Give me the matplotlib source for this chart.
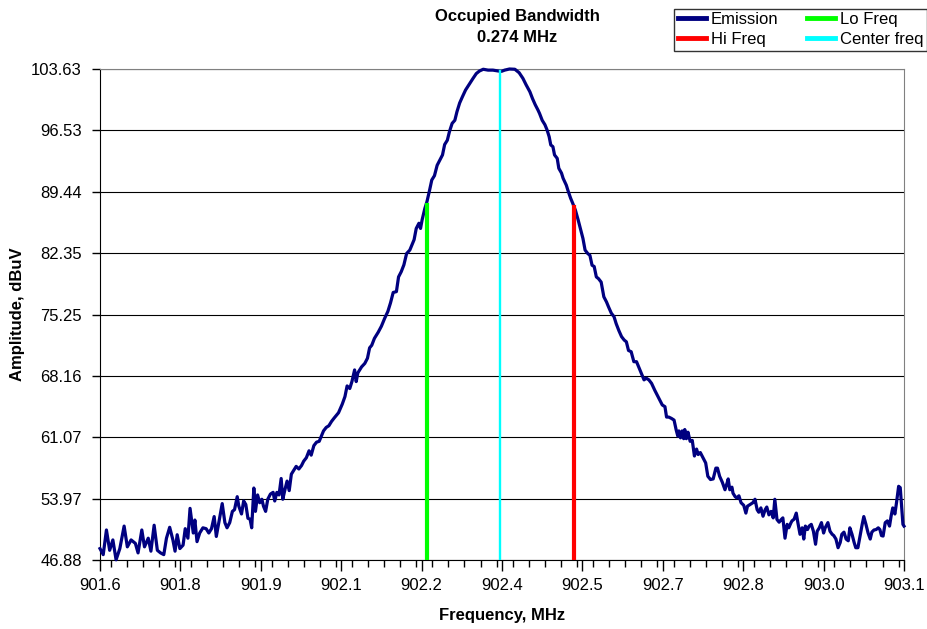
import matplotlib
matplotlib.use('Agg')
import matplotlib.pyplot as plt
from matplotlib.ticker import MultipleLocator

plt.rcParams['font.family'] = ['Liberation Sans', 'DejaVu Sans']

# emission trace (MHz, dBuV)
emission_freq = [
    901.600, 901.606, 901.612, 901.618, 901.624, 901.630, 901.637, 901.645, 901.651, 901.658,
    901.666, 901.671, 901.678, 901.683, 901.690, 901.695, 901.701, 901.707, 901.713, 901.719,
    901.724, 901.730, 901.736, 901.740, 901.744, 901.749, 901.755, 901.759, 901.764, 901.768,
    901.774, 901.777, 901.781, 901.786, 901.792, 901.798, 901.803, 901.808, 901.813, 901.817,
    901.824, 901.828, 901.833, 901.837, 901.842, 901.847, 901.851, 901.856, 901.859, 901.864,
    901.868, 901.872, 901.876, 901.880, 901.883, 901.887, 901.890, 901.894, 901.898, 901.902,
    901.905, 901.909, 901.913, 901.918, 901.923, 901.926, 901.930, 901.934, 901.938, 901.941,
    901.945, 901.949, 901.953, 901.957, 901.961, 901.966, 901.971, 901.976, 901.980, 901.985,
    901.990, 901.994, 901.999, 902.004, 902.009, 902.013, 902.017, 902.022, 902.027, 902.032,
    902.037, 902.045, 902.052,
    902.057, 902.061, 902.066, 902.070, 902.075, 902.078, 902.081, 902.088, 902.094, 902.099,
    902.103, 902.107, 902.112, 902.119, 902.125, 902.131, 902.137, 902.142, 902.147, 902.153,
    902.157, 902.162, 902.167, 902.172, 902.178, 902.182, 902.186, 902.190, 902.195, 902.198,
    902.201, 902.206, 902.210, 902.215, 902.219, 902.224, 902.229, 902.234, 902.239, 902.243,
    902.248,
    902.252, 902.257, 902.262, 902.266, 902.271, 902.276, 902.282, 902.290, 902.296, 902.302,
    902.308, 902.315, 902.324, 902.333, 902.343, 902.349, 902.355, 902.364, 902.374, 902.382,
    902.389, 902.395, 902.402, 902.407, 902.412, 902.417, 902.420, 902.425, 902.430, 902.434,
    902.438, 902.441, 902.445, 902.448, 902.453, 902.456, 902.461,
    902.464, 902.470, 902.473, 902.478, 902.482, 902.487, 902.492, 902.497, 902.501, 902.505,
    902.510, 902.514, 902.518, 902.522, 902.526, 902.530, 902.535, 902.540, 902.545, 902.549,
    902.554, 902.559, 902.563, 902.568, 902.573, 902.578, 902.582, 902.586, 902.591, 902.596,
    902.601, 902.605, 902.610, 902.615, 902.619, 902.624, 902.629, 902.635, 902.640, 902.644,
    902.649, 902.654, 902.657, 902.661, 902.666, 902.671, 902.675,
    902.678, 902.680, 902.683, 902.686, 902.689, 902.691, 902.694, 902.697, 902.701, 902.705,
    902.709, 902.713, 902.716, 902.720, 902.725, 902.730, 902.734, 902.739, 902.744, 902.749,
    902.752, 902.756, 902.761, 902.766, 902.770, 902.772, 902.775, 902.779, 902.781, 902.785,
    902.788, 902.792, 902.796, 902.801, 902.805, 902.808, 902.813, 902.818, 902.822, 902.826,
    902.829, 902.833, 902.837, 902.841, 902.844, 902.848, 902.852, 902.856, 902.859, 902.863,
    902.867, 902.871, 902.874, 902.878, 902.882, 902.885, 902.889,
    902.891, 902.895, 902.899, 902.902, 902.906, 902.910, 902.913, 902.916, 902.920, 902.923,
    902.927, 902.931, 902.935, 902.938, 902.942, 902.946, 902.950, 902.953, 902.958, 902.962,
    902.966, 902.969, 902.973, 902.977, 902.981, 902.984, 902.988, 902.992, 902.996, 902.999,
    903.003, 903.007, 903.010, 903.014, 903.018, 903.022, 903.025, 903.029, 903.033, 903.037,
    903.040, 903.044, 903.048, 903.052, 903.055, 903.058, 903.061, 903.065, 903.069, 903.073,
    903.076, 903.079, 903.083, 903.086, 903.090, 903.093, 903.095, 903.098, 903.100,
]
emission_amp = [
    48.2, 47.5, 50.35, 48.0, 49.2, 46.9, 48.2, 50.8, 48.4, 49.2,
    48.8, 47.7, 50.35, 48.4, 49.4, 47.9, 50.9, 48.0, 47.7, 47.5,
    49.4, 50.66, 49.2, 47.9, 49.8, 48.2, 48.6, 50.5, 49.4, 52.85,
    50.0, 51.5, 49.0, 50.0, 50.6, 50.5, 50.0, 50.5, 51.9, 49.6,
    52.0, 53.4, 51.2, 50.6, 51.2, 52.5, 52.7, 54.2, 53.1, 52.2,
    53.7, 53.3, 51.7, 51.6, 50.6, 55.2, 52.5, 54.4, 53.5, 53.9,
    53.1, 52.5, 53.9, 54.5, 54.7, 53.7, 54.7, 54.4, 56.3, 53.9,
    55.0, 56.0, 54.9, 56.8, 57.2, 57.7, 57.4, 57.8, 58.3, 58.7,
    59.5, 59.0, 60.1, 60.5, 60.6, 61.2, 61.8, 62.2, 62.4, 62.9,
    63.3, 63.9, 64.9,
    65.77, 67.0, 66.7, 67.5, 68.85, 67.5, 68.5, 69.2, 69.6, 70.2,
    71.4, 71.7, 72.5, 73.2, 73.9, 74.8, 75.6, 76.6, 77.8, 77.9,
    79.6, 80.2, 81.0, 82.3, 82.7, 83.3, 83.9, 85.2, 85.8, 85.2,
    86.2, 87.5, 88.3, 89.65, 90.8, 91.3, 92.5, 93.1, 93.7, 94.9,
    95.4,
    96.4, 97.35, 97.7, 98.7, 99.7, 100.4, 101.2, 101.97, 102.55, 103.1,
    103.4, 103.6, 103.5, 103.5, 103.4, 103.36, 103.5, 103.63, 103.6, 103.2,
    102.55, 101.8, 101.0, 100.2, 99.5, 98.9, 98.5, 97.7, 97.2, 96.6,
    95.8, 94.85, 94.65, 93.7, 93.3, 92.15, 91.6,
    91.0, 90.2, 89.6, 88.7, 88.1, 87.3, 86.2, 85.0, 84.05, 82.7,
    82.3, 82.1, 80.95, 80.8, 79.6, 79.4, 79.0, 77.3, 76.7, 76.1,
    75.4, 75.0, 74.2, 73.4, 72.7, 72.3, 72.1, 71.1, 70.95, 69.8,
    69.8, 69.2, 68.45, 67.7, 67.9, 67.7, 67.3, 66.5, 65.9, 65.4,
    64.8, 64.6, 63.4, 63.4, 63.25, 63.05, 61.9,
    61.2, 61.8, 61.0, 61.8, 60.9, 61.96, 60.9, 61.65, 60.6, 60.7,
    58.9, 59.7, 59.07, 59.3, 58.7, 58.1, 56.56, 56.18, 56.25, 57.5,
    57.5, 56.56, 55.87, 55.0, 55.79, 56.25, 55.0, 55.3, 54.6, 54.2,
    54.05, 54.3, 53.5, 53.2, 52.3, 53.1, 53.3, 53.5, 53.9, 52.7,
    52.4, 52.9, 51.94, 52.7, 53.0, 52.1, 52.5, 51.75, 53.9, 51.56,
    51.25, 51.56, 51.75, 49.4, 51.0, 50.6, 51.17,
    51.4, 51.6, 52.3, 51.2, 49.85, 50.6, 49.3, 50.8, 50.4, 50.8,
    51.0, 50.2, 48.7, 50.2, 50.6, 51.2, 50.0, 50.6, 51.2, 50.2,
    49.85, 49.7, 49.3, 48.3, 48.9, 49.85, 50.1, 49.3, 49.1, 50.6,
    49.85, 48.9, 48.3, 48.3, 49.65, 51.0, 51.9, 51.0, 50.0, 49.3,
    50.1, 50.35, 50.4, 50.6, 50.4, 49.7, 49.65, 51.2, 51.4, 50.8,
    51.97, 52.9, 52.2, 53.5, 55.4, 55.24, 53.5, 51.0, 50.8,
]

lo_freq, lo_amp = 902.210, 87.9
hi_freq, hi_amp = 902.484, 87.7
center_freq, center_amp = 902.347, 103.4

y_ticks = [46.88, 53.97, 61.07, 68.16, 75.25, 82.35, 89.44, 96.53, 103.63]
x_ticks = [901.60, 901.75, 901.90, 902.05, 902.20, 902.35, 902.50, 902.65, 902.80, 902.95, 903.10]
x_tick_labels = ['901.6', '901.8', '901.9', '902.1', '902.2', '902.4',
                 '902.5', '902.7', '902.8', '903.0', '903.1']

fig = plt.figure(figsize=(9.28, 6.29), dpi=100)
ax = fig.add_axes([100 / 928, 1 - 560 / 629, 804 / 928, 491 / 629])

ymin, ymax = y_ticks[0], y_ticks[-1]

l_em, = ax.plot(emission_freq, emission_amp, color='#000080', lw=2.3,
                clip_on=False, zorder=3, label='Emission')
l_lo, = ax.plot([lo_freq, lo_freq], [ymin, lo_amp], color='#00ff00', lw=3,
                zorder=4, label='Lo Freq')
l_hi, = ax.plot([hi_freq, hi_freq], [ymin, hi_amp], color='#ff0000', lw=3,
                zorder=4, label='Hi Freq')
l_c, = ax.plot([center_freq, center_freq], [ymin, center_amp], color='#00ffff', lw=1.7,
               zorder=4, label='Center freq')

ax.set_xlim(x_ticks[0], x_ticks[-1])
ax.set_ylim(ymin, ymax)
ax.set_xticks(x_ticks)
ax.set_xticklabels(x_tick_labels)
ax.xaxis.set_minor_locator(MultipleLocator(0.03))
ax.set_yticks(y_ticks)
ax.set_yticklabels([f'{v:.2f}' for v in y_ticks])

ax.tick_params(axis='x', which='major', length=8, width=1, pad=5, labelsize=12)
ax.tick_params(axis='x', which='minor', length=5, width=1)
ax.tick_params(axis='y', length=6, width=1, pad=7, labelsize=12)
ax.yaxis.grid(True, color='black', lw=0.8)
ax.set_axisbelow(True)

for s in ['top', 'right']:
    ax.spines[s].set_color('#808080')
for s in ['left', 'bottom']:
    ax.spines[s].set_color('black')

bw = hi_freq - lo_freq
fig.text(517 / 928, 1 - 27 / 629, f'Occupied Bandwidth\n{bw:.3f} MHz', ha='center', va='center',
         fontsize=12, fontweight='bold', linespacing=1.45)

ax.set_xlabel('Frequency, MHz', fontsize=12, fontweight='bold')
ax.xaxis.set_label_coords(0.5, -0.098)
fig.text(18 / 928, 1 - 314.5 / 629, 'Amplitude, dBuV', rotation=90, ha='center', va='center',
         fontsize=12, fontweight='bold')

leg = fig.legend([l_em, l_hi, l_lo, l_c], ['Emission', 'Hi Freq', 'Lo Freq', 'Center freq'],
                 ncol=2, loc='upper right', bbox_to_anchor=(927 / 928, 1 - 9 / 629),
                 frameon=True, fancybox=False, edgecolor='black', fontsize=12,
                 borderpad=0.2, labelspacing=0.3, handlelength=1.7, handletextpad=0.3,
                 columnspacing=1.7, borderaxespad=0)
leg.get_frame().set_linewidth(1.0)
for h in leg.get_lines():
    h.set_linewidth(3.5)

fig.savefig('out.png', dpi=100)
